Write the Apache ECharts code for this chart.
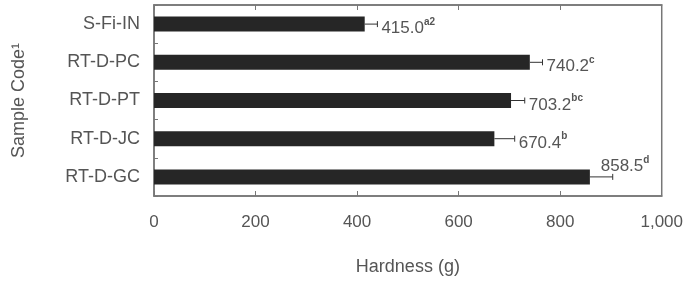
<!DOCTYPE html>
<html>
<head>
<meta charset="utf-8">
<script src="https://cdn.jsdelivr.net/npm/echarts@6/dist/echarts.min.js"></script>
<style>
  html, body { margin: 0; padding: 0; background: #fff; }
  #main { width: 686px; height: 293px; }
</style>
</head>
<body>
<div id="main"></div>
<script>
const categories = ['S-Fi-IN', 'RT-D-PC', 'RT-D-PT', 'RT-D-JC', 'RT-D-GC'];
const hardness = [415.0, 740.2, 703.2, 670.4, 858.5];
const errors = [25, 25, 27, 40, 45];
const letters = ['a2', 'c', 'bc', 'b', 'd'];
const xTicks = [0, 200, 400, 600, 800, 1000];

const chart = echarts.init(document.getElementById('main'));
const font = 'Liberation Sans, Arial, sans-serif';
const textColor = '#555';
const axisColor = '#777';

function renderErr(params, api) {
  const idx = params.dataIndex;
  const v = api.value(1);
  const e = api.value(2);
  const start = api.coord([v, api.value(0)]);
  const end = api.coord([v + e, api.value(0)]);
  const y = start[1];
  const label = hardness[idx].toFixed(1);
  const approxW = label.length * 9.5 + letters[idx].length * 6;
  const right = params.coordSys.x + params.coordSys.width;
  let tx = end[0] + 4, ty = y + 3;
  // not enough room on the right: put the label above the bar
  if (tx + approxW > right) { tx = end[0] - 12; ty = y - 12; }
  return {
    type: 'group',
    children: [
      { type: 'line', shape: { x1: start[0], y1: y, x2: end[0], y2: y }, style: { stroke: '#333', lineWidth: 1 } },
      { type: 'line', shape: { x1: end[0], y1: y - 3, x2: end[0], y2: y + 3 }, style: { stroke: '#333', lineWidth: 1 } },
      {
        type: 'text', x: tx, y: ty,
        style: {
          text: '{v|' + label + '}{s|' + letters[idx] + '}',
          verticalAlign: 'middle', align: 'left',
          rich: {
            v: { fontSize: 17, fontFamily: font, fill: textColor, lineHeight: 20, verticalAlign: 'bottom' },
            s: { fontSize: 10, fontFamily: font, fill: textColor, fontWeight: 'bold', lineHeight: 20, verticalAlign: 'top' }
          }
        }
      }
    ]
  };
}

const option = {
  animation: false,
  grid: { left: 154, right: 20, top: 5, bottom: 97, show: true, borderColor: axisColor, borderWidth: 1.5 },
  xAxis: [{
    type: 'value', min: 0, max: 1000, interval: 200,
    name: 'Hardness (g)', nameLocation: 'middle', nameGap: 62,
    nameTextStyle: { fontSize: 18, fontFamily: font, color: textColor },
    axisLine: { show: true, lineStyle: { color: axisColor, width: 1.5 } },
    axisTick: { show: true, inside: true, length: 5, lineStyle: { color: axisColor } },
    axisLabel: {
      fontSize: 17, fontFamily: font, color: textColor, margin: 18,
      formatter: v => xTicks.includes(v) ? (v >= 1000 ? '1,000' : String(v)) : ''
    },
    splitLine: { show: false }
  }, {
    type: 'value', min: 0, max: 1000, interval: 200, position: 'top',
    axisLine: { show: true, lineStyle: { color: axisColor, width: 1.5 } },
    axisTick: { show: true, inside: true, length: 5, lineStyle: { color: axisColor } },
    axisLabel: { show: false }, splitLine: { show: false }
  }],
  yAxis: {
    type: 'category', data: categories, inverse: true,
    name: 'Sample Code\u00b9', nameLocation: 'middle', nameGap: 126, nameRotate: 90,
    nameTextStyle: { fontSize: 18, fontFamily: font, color: textColor },
    axisLine: { show: true, lineStyle: { color: axisColor, width: 1.5 } },
    axisTick: { show: true, inside: true, length: 4, lineStyle: { color: axisColor } },
    axisLabel: { fontSize: 18, fontFamily: font, color: textColor, margin: 14 }
  },
  series: [{
    type: 'bar', data: hardness, barWidth: 15,
    itemStyle: { color: '#262626' }
  }, {
    type: 'custom',
    renderItem: renderErr,
    encode: { x: [1, 2], y: 0 },
    data: hardness.map((v, i) => [i, v, errors[i]]),
    z: 5
  }]
};
chart.setOption(option);
</script>
</body>
</html>
